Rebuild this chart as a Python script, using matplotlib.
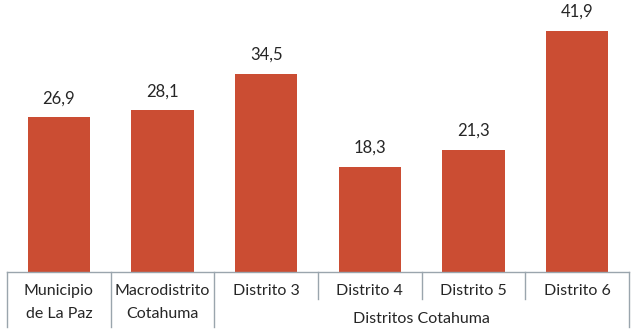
import matplotlib.pyplot as plt

# Data
categories = ['Municipio\nde La Paz', 'Macrodistrito\nCotahuma', 'Distrito 3',
              'Distrito 4', 'Distrito 5', 'Distrito 6']
values = [26.9, 28.1, 34.5, 18.3, 21.3, 41.9]
value_labels = ['26,9', '28,1', '34,5', '18,3', '21,3', '41,9']
group_label = 'Distritos Cotahuma'

bar_color = '#CB4D33'
line_color = '#9AA5AD'
text_color = '#262626'

plt.rcParams['font.family'] = ['Lato', 'DejaVu Sans']

fig = plt.figure(figsize=(6.34, 3.34), dpi=100)
ax = fig.add_axes([7 / 634, 62 / 334, 622 / 634, 272 / 334])

x = list(range(len(values)))
bars = ax.bar(x, values, width=0.6, color=bar_color)

for xi, v, lab in zip(x, values, value_labels):
    ax.annotate(lab, (xi, v), xytext=(0, 8), textcoords='offset points',
                ha='center', va='bottom', fontsize=12, color=text_color)

ax.set_xlim(-0.5, 5.5)
ax.set_ylim(0, 47.3)
ax.axis('off')

# table-like category axis
trans = ax.get_xaxis_transform()
ax.plot([-0.5, 5.5], [0, 0], color=line_color, lw=1, transform=trans, clip_on=False)
px = 1 / 272  # one pixel in axes-fraction units (vertical)
for b in [-0.5, 0.5, 1.5, 5.5]:
    ax.plot([b, b], [0, -55 * px], color=line_color, lw=1, transform=trans, clip_on=False)
for b in [2.5, 3.5, 4.5]:
    ax.plot([b, b], [0, -27 * px], color=line_color, lw=1, transform=trans, clip_on=False)

fs = 11.5
for xi, cat in zip(x, categories):
    if '\n' in cat:
        top, bottom = cat.split('\n')
        ax.text(xi, -19 * px, top, transform=trans, ha='center', va='center',
                fontsize=fs, color=text_color)
        ax.text(xi, -42 * px, bottom, transform=trans, ha='center', va='center',
                fontsize=fs, color=text_color)
    else:
        ax.text(xi, -19 * px, cat, transform=trans, ha='center', va='center',
                fontsize=fs, color=text_color)

ax.text(3.5, -47 * px, group_label, transform=trans, ha='center', va='center',
        fontsize=fs, color=text_color)

fig.savefig('out.png', dpi=100, facecolor='white')
